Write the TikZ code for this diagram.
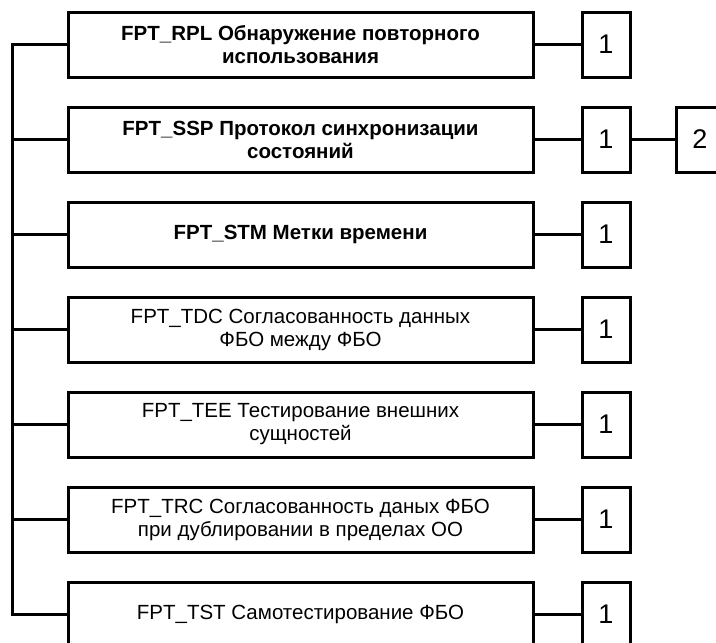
\documentclass[tikz,border=0pt]{standalone}
\usepackage{fontspec}
\setmainfont{Liberation Sans}
\begin{document}
\begin{tikzpicture}[x=1pt,y=-1pt,
  mainbox/.style={draw, line width=3pt, minimum width=465pt, minimum height=65pt, align=center, font=\fontsize{20.5}{23}\selectfont, inner sep=0pt},
  boldbox/.style={mainbox, font=\fontsize{20.5}{23}\selectfont\bfseries},
  numbox/.style={draw, line width=3pt, minimum width=48pt, minimum height=65pt, font=\fontsize{27}{30}\selectfont, inner sep=0pt},
  link/.style={line width=2.8pt}]
\useasboundingbox (0,0) rectangle (716,643);
\clip (0,0) rectangle (716,643);
\node[boldbox] (b1) at (300.5,44.5) {FPT\_RPL Обнаружение повторного\\использования};
\node[boldbox] (b2) at (300.5,139.5) {FPT\_SSP Протокол синхронизации\\состояний};
\node[boldbox] (b3) at (300.5,234.5) {FPT\_STM Метки времени};
\node[mainbox] (b4) at (300.5,329.5) {FPT\_TDC Согласованность данных\\ФБО между ФБО};
\node[mainbox] (b5) at (300.5,424.5) {FPT\_TEE Тестирование внешних\\сущностей};
\node[mainbox] (b6) at (300.5,519.5) {FPT\_TRC Согласованность даных ФБО\\при дублировании в пределах ОО};
\node[mainbox] (b7) at (300.5,614.5) {FPT\_TST Самотестирование ФБО};
\node[numbox] (n1) at (606,44.5) {1};
\node[numbox] (n2) at (606,139.5) {1};
\node[numbox] (n3) at (606,234.5) {1};
\node[numbox] (n4) at (606,329.5) {1};
\node[numbox] (n5) at (606,424.5) {1};
\node[numbox] (n6) at (606,519.5) {1};
\node[numbox] (n7) at (606,614.5) {1};
\node[numbox] (m2) at (700,139.5) {2};
\coordinate (spine) at (12.5,0);
\draw[link] (b1.west) -- (spine |- b1.west) -- (spine |- b7.west) -- (b7.west);
\foreach \i in {2,...,6} {\draw[link] (spine |- b\i.west) -- (b\i.west);}
\foreach \i in {1,...,7} {\draw[link] (b\i.east) -- (n\i.west);}
\draw[link] (n2.east) -- (m2.west);
\end{tikzpicture}
\end{document}
